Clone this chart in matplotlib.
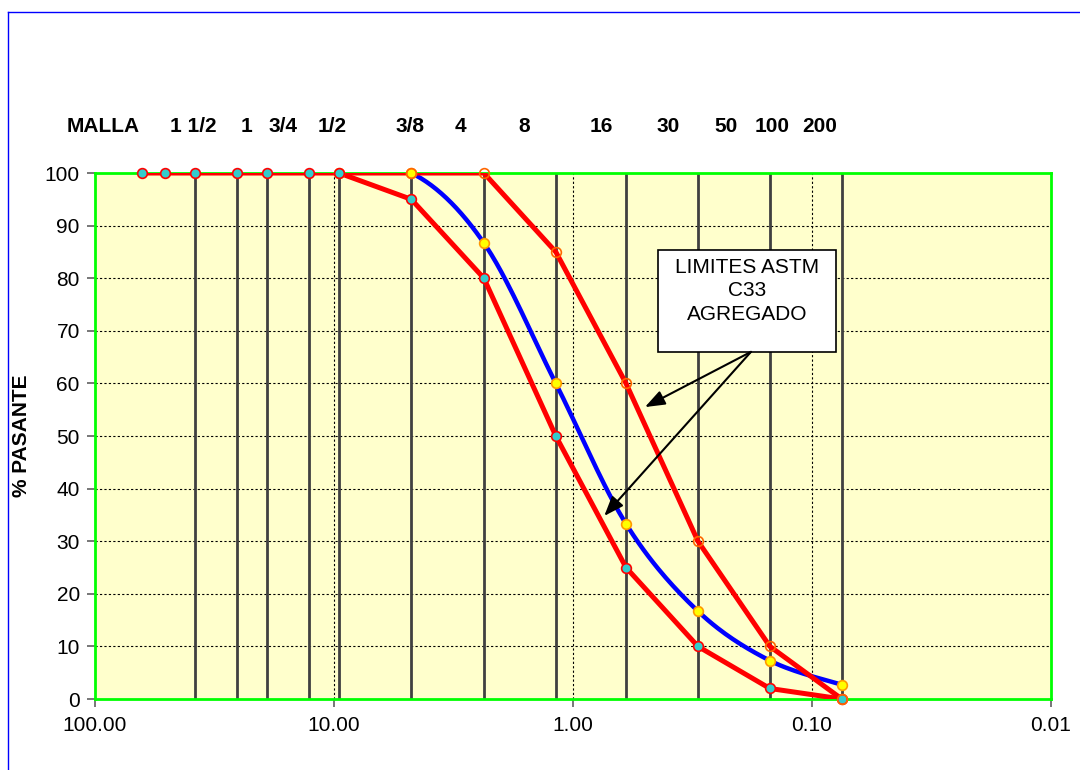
import matplotlib

matplotlib.use("Agg")
import matplotlib.pyplot as plt
import numpy as np
from matplotlib.lines import Line2D
from matplotlib.patches import Rectangle
from matplotlib.ticker import FixedLocator, NullLocator

plt.rcParams["font.family"] = ["Liberation Sans", "DejaVu Sans"]

# sieve openings (mm) and names
sieve_sizes = [38.1, 25.4, 19.05, 12.7, 9.525, 4.75, 2.36, 1.18, 0.6, 0.3, 0.15, 0.075]
sieve_names = ["1 1/2", "1", "3/4", "1/2", "3/8", "4", "8", "16", "30", "50", "100", "200"]
# where the names sit above the chart (mm), as in the original sheet
name_pos = [38.9, 23.3, 16.3, 10.2, 4.8, 2.97, 1.6, 0.76, 0.40, 0.229, 0.147, 0.093]

# ASTM C33 limits
lower_size = [63.5, 50.8, 38.1, 25.4, 19.05, 12.7, 9.525, 4.75, 2.36, 1.18, 0.6, 0.3, 0.15, 0.075]
lower_pass = [100, 100, 100, 100, 100, 100, 100, 95, 80, 50, 25, 10, 2, 0]
upper_size = [9.525, 4.75, 2.36, 1.18, 0.6, 0.3, 0.15, 0.075]
upper_pass = [100, 100, 100, 85, 60, 30, 10, 0]

# aggregate gradation
sample_size = [9.525, 4.75, 2.36, 1.18, 0.6, 0.3, 0.15, 0.075]
sample_pass = [100, 100, 86.7, 60, 33.3, 16.7, 7.3, 2.7]

RED = "#FF0000"
BLUE = "#0000FF"
GREEN = "#00FF00"
FS = 15


def smooth_curve(xs, ys, steps=30):
    # Catmull-Rom through the points in (log x, y), like a spreadsheet smoothed line
    lx = np.log10(xs)
    pts = np.column_stack([lx, ys])
    pts = np.vstack([pts[0], pts, pts[-1]])
    out = []
    for i in range(1, len(pts) - 2):
        p0, p1, p2, p3 = pts[i - 1], pts[i], pts[i + 1], pts[i + 2]
        t = np.linspace(0, 1, steps)[:, None]
        seg = 0.5 * ((2 * p1) + (-p0 + p2) * t + (2 * p0 - 5 * p1 + 4 * p2 - p3) * t**2
                     + (-p0 + 3 * p1 - 3 * p2 + p3) * t**3)
        out.append(seg)
    out = np.vstack(out)
    return 10 ** out[:, 0], out[:, 1]


fig = plt.figure(figsize=(10.8, 7.7), dpi=100)
ax = fig.add_axes([0.088, 0.0922, 0.8851, 0.6831])
ax.set_facecolor("#FFFFCC")
ax.set_xscale("log")
ax.set_xlim(100, 0.01)
ax.set_ylim(0, 100)

ax.xaxis.set_major_locator(FixedLocator([100, 10, 1, 0.1, 0.01]))
ax.xaxis.set_minor_locator(NullLocator())
ax.set_xticklabels(["100.00", "10.00", "1.00", "0.10", "0.01"])
ax.set_yticks(np.arange(0, 101, 10))
ax.tick_params(axis="both", labelsize=FS, direction="out", length=6, color="#606060", width=1.2)
ax.tick_params(axis="x", pad=6)
ax.tick_params(axis="y", pad=5)

for yv in range(10, 100, 10):
    ax.axhline(yv, color="black", lw=0.8, ls=(0, (2, 2)), zorder=1)
for xv in [10, 1, 0.1]:
    ax.axvline(xv, color="black", lw=0.8, ls=(0, (2, 2)), zorder=1)
for s in sieve_sizes:
    ax.axvline(s, color="#404040", lw=2, zorder=2)

for sp in ax.spines.values():
    sp.set_color(GREEN)
    sp.set_linewidth(2)

bx, by = smooth_curve(sample_size, sample_pass)
ax.plot(bx, by, color=BLUE, lw=3.2, zorder=3, solid_capstyle="round")
ax.plot(lower_size, lower_pass, color=RED, lw=3.6, zorder=4, solid_joinstyle="round")
ax.plot(upper_size, upper_pass, color=RED, lw=3.6, zorder=4, solid_joinstyle="round")

ax.plot(sample_size, sample_pass, ls="none", marker="o", ms=7, mfc="#FFFF00", mec="#FF9900", mew=1.2,
        zorder=5, clip_on=False)
ax.plot(lower_size, lower_pass, ls="none", marker="o", ms=7, mfc="#33CCCC", mec=RED, mew=1.2,
        zorder=6, clip_on=False)
ax.plot(upper_size[1:], upper_pass[1:], ls="none", marker="o", ms=7, mfc="none", mec="#FF6600",
        mew=1.2, zorder=6, clip_on=False)

trans = ax.get_xaxis_transform()
ax.text(92.7, 1.0875, "MALLA", transform=trans, ha="center", va="center", fontsize=FS,
        fontweight="bold")
for pos, name in zip(name_pos, sieve_names):
    ax.text(pos, 1.0875, name, transform=trans, ha="center", va="center", fontsize=FS,
            fontweight="bold")

ax.set_ylabel("% PASANTE", fontsize=FS, fontweight="bold", labelpad=10)

# callout box with arrows to the limit curves
ax.add_patch(Rectangle((0.441, 65.97), 0.0794 - 0.441, 85.36 - 65.97, fc="white", ec="black",
                       lw=1.2, zorder=8))
ax.text(0.187, 77.6, "LIMITES ASTM\nC33\nAGREGADO", ha="center", va="center", fontsize=FS,
        linespacing=1.3, zorder=9)
for tip in [(0.5, 55.5), (0.74, 34.8)]:
    ax.annotate("", xy=tip, xytext=(0.18, 66), zorder=9,
                arrowprops=dict(arrowstyle="-|>,head_length=1.2,head_width=0.45", color="black",
                                lw=1.5, shrinkA=0, shrinkB=0))

fig.add_artist(Line2D([8 / 1080, 8 / 1080], [0, 1 - 12 / 770], color=BLUE, lw=1,
                      transform=fig.transFigure))
fig.add_artist(Line2D([8 / 1080, 1], [1 - 12 / 770, 1 - 12 / 770], color=BLUE, lw=1,
                      transform=fig.transFigure))

fig.savefig("out.png", dpi=100)
